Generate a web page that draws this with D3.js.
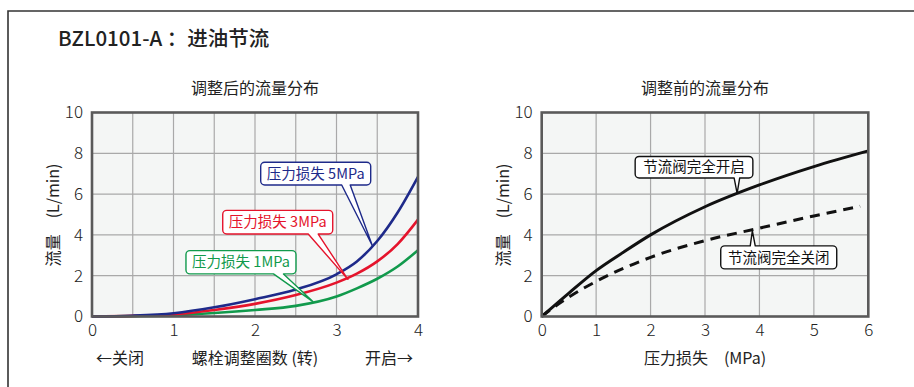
<!DOCTYPE html>
<html>
<head>
<meta charset="utf-8">
<script src="https://d3js.org/d3.v7.min.js"></script>
<style>
  body { margin: 0; background: #fff; }
  text { font-family: "Noto Sans CJK SC", "Noto Sans", sans-serif; fill: #222; }
  .grid line { stroke: #a9a9a9; stroke-width: 1.2px; }
  .frame { fill: none; stroke: #5a5a5a; stroke-width: 2.6px; }
  .bg { fill: #f4f6f5; }
  .tick text { font-size: 17px; font-weight: 300; }
</style>
</head>
<body>
<svg width="914" height="387"></svg>
<script>
// ---- data: left chart (turns vs flow) ----
var turns = [0, 0.5, 1, 1.5, 2, 2.5, 3, 3.25, 3.5, 3.75, 4];
var flow5MPa = [0, 0.04, 0.16, 0.45, 0.85, 1.32, 2.07, 2.7, 3.7, 5.1, 6.85];
var flow3MPa = [0, 0.03, 0.10, 0.32, 0.62, 1.05, 1.66, 2.1, 2.7, 3.55, 4.75];
var flow1MPa = [0, 0.02, 0.06, 0.17, 0.32, 0.52, 0.98, 1.38, 1.85, 2.45, 3.25];
var leftXTicks = [0, 1, 2, 3, 4];
var yTicks = [0, 2, 4, 6, 8, 10];

// ---- data: right chart (pressure vs flow) ----
var pressOpen = [0, 0.5, 1, 1.5, 2, 3, 4, 5, 6];
var flowOpen = [0, 1.15, 2.25, 3.15, 4.0, 5.38, 6.45, 7.35, 8.12];
var pressClosed = [0, 0.25, 0.5, 1, 2, 3, 4, 5, 5.85];
var flowClosed = [0, 0.5, 0.95, 1.72, 2.9, 3.72, 4.33, 4.93, 5.4];
var rightXTicks = [0, 1, 2, 3, 4, 5, 6];

var svg = d3.select('svg');

// outer frame (top and left edges visible)
svg.append('path')
  .attr('d', 'M8,387 V11 H914')
  .attr('fill', 'none')
  .attr('stroke', '#333')
  .attr('stroke-width', 1.6);

svg.append('text')
  .attr('x', 58).attr('y', 46)
  .style('font-size', '20.5px').style('font-weight', 500)
  .text('BZL0101-A ：进油节流');

function zip(xs, ys) {
  return xs.map(function(d, i) { return [d, ys[i]]; });
}

// callout outline: rounded box with a wedge pointing to (tx, ty)
function callout(x0, y0, w, h, r, b1, b2, tx, ty) {
  var x1 = x0 + w, y1 = y0 + h;
  if (ty > y1) {
    return 'M' + (x0 + r) + ',' + y0 + 'H' + (x1 - r) +
      'A' + r + ',' + r + ' 0 0 1 ' + x1 + ',' + (y0 + r) +
      'V' + (y1 - r) + 'A' + r + ',' + r + ' 0 0 1 ' + (x1 - r) + ',' + y1 +
      'H' + b2 + 'L' + tx + ',' + ty + 'L' + b1 + ',' + y1 +
      'H' + (x0 + r) + 'A' + r + ',' + r + ' 0 0 1 ' + x0 + ',' + (y1 - r) +
      'V' + (y0 + r) + 'A' + r + ',' + r + ' 0 0 1 ' + (x0 + r) + ',' + y0 + 'Z';
  }
  return 'M' + (x0 + r) + ',' + y0 + 'H' + b1 + 'L' + tx + ',' + ty + 'L' + b2 + ',' + y0 +
    'H' + (x1 - r) + 'A' + r + ',' + r + ' 0 0 1 ' + x1 + ',' + (y0 + r) +
    'V' + (y1 - r) + 'A' + r + ',' + r + ' 0 0 1 ' + (x1 - r) + ',' + y1 +
    'H' + (x0 + r) + 'A' + r + ',' + r + ' 0 0 1 ' + x0 + ',' + (y1 - r) +
    'V' + (y0 + r) + 'A' + r + ',' + r + ' 0 0 1 ' + (x0 + r) + ',' + y0 + 'Z';
}

function drawPanel(opt) {
  var x = d3.scaleLinear().domain(opt.xDomain).range([opt.left, opt.left + opt.width]);
  var y = d3.scaleLinear().domain([0, 10]).range([316.5, 112.5]);
  var g = svg.append('g');

  g.append('rect').attr('class', 'bg')
    .attr('x', x.range()[0]).attr('y', y.range()[1])
    .attr('width', opt.width).attr('height', y.range()[0] - y.range()[1]);

  var grid = g.append('g').attr('class', 'grid');
  grid.selectAll('line.v').data(opt.xGrid).enter().append('line')
    .attr('x1', function(d) { return x(d); }).attr('x2', function(d) { return x(d); })
    .attr('y1', y(0)).attr('y2', y(10));
  grid.selectAll('line.h').data([2, 4, 6, 8]).enter().append('line')
    .attr('y1', function(d) { return y(d); }).attr('y2', function(d) { return y(d); })
    .attr('x1', x.range()[0]).attr('x2', x.range()[1]);

  var line = d3.line()
    .x(function(d) { return x(d[0]); })
    .y(function(d) { return y(d[1]); })
    .curve(d3.curveMonotoneX);

  opt.series.forEach(function(s) {
    g.append('path')
      .attr('d', line(s.points))
      .attr('fill', 'none')
      .attr('stroke', s.color)
      .attr('stroke-width', s.width)
      .attr('stroke-dasharray', s.dash || null);
  });

  g.append('rect').attr('class', 'frame')
    .attr('x', x.range()[0]).attr('y', y.range()[1])
    .attr('width', opt.width).attr('height', y.range()[0] - y.range()[1]);

  // axes
  var ya = g.append('g').attr('transform', 'translate(' + x.range()[0] + ',0)')
    .call(d3.axisLeft(y).tickValues(yTicks).tickFormat(d3.format('d')).tickSize(0).tickPadding(9));
  ya.select('.domain').remove();
  ya.selectAll('text').attr('fill', '#222').style('font-family', null);

  var xa = g.append('g').attr('transform', 'translate(0,' + y(0) + ')')
    .call(d3.axisBottom(x).tickValues(opt.xTicks).tickFormat(d3.format('d')).tickSize(0).tickPadding(7));
  xa.select('.domain').remove();
  xa.selectAll('text').attr('fill', '#222').style('font-family', null);

  // titles
  g.append('text').attr('x', x.range()[0] + opt.width / 2).attr('y', 94)
    .attr('text-anchor', 'middle').style('font-size', '16px').text(opt.title);

  g.append('text')
    .attr('transform', 'translate(' + (x.range()[0] - 33) + ',215) rotate(-90)')
    .attr('text-anchor', 'middle').style('font-size', '16px')
    .text('流量　(L/min)');

  // callouts
  opt.callouts.forEach(function(c) {
    var tx = x(c.at[0]), ty = y(c.at[1]);
    var bx = x(c.box[0]), by = y(c.box[1]);
    g.append('path')
      .attr('d', callout(bx, by, c.w, c.h, 4, bx + c.base[0], bx + c.base[1], tx, ty))
      .attr('fill', '#fff')
      .attr('stroke', c.color)
      .attr('stroke-width', 1.4)
      .attr('stroke-linejoin', 'round');
    g.append('text')
      .attr('x', bx + c.w / 2).attr('y', by + c.h / 2 + 5.2)
      .attr('text-anchor', 'middle')
      .style('font-size', '14.5px')
      .attr('fill', c.color).style('fill', c.color)
      .text(c.label);
  });

  return { x: x, y: y, g: g };
}

var left = drawPanel({
  xDomain: [0, 4], left: 92, width: 326,
  xGrid: d3.range(0.5, 4, 0.5), xTicks: leftXTicks,
  title: '调整后的流量分布',
  series: [
    { points: zip(turns, flow1MPa), color: '#119a4c', width: 2.6 },
    { points: zip(turns, flow3MPa), color: '#e5142c', width: 2.6 },
    { points: zip(turns, flow5MPa), color: '#1e2a8a', width: 2.6 }
  ],
  callouts: [
    { label: '压力损失 5MPa', color: '#1e2a8a', box: [2.07, 7.56], w: 110, h: 22.7, base: [81, 89.5], at: [3.44, 3.47] },
    { label: '压力损失 3MPa', color: '#e5142c', box: [1.604, 5.2], w: 110, h: 23.6, base: [85.5, 95.5], at: [3.14, 1.82] },
    { label: '压力损失 1MPa', color: '#119a4c', box: [1.153, 3.23], w: 110, h: 23.3, base: [87.5, 97.5], at: [2.71, 0.73] }
  ]
});

left.g.append('text').attr('x', 96).attr('y', 364).style('font-size', '16px').text('←关闭');
left.g.append('text').attr('x', 255).attr('y', 364).attr('text-anchor', 'middle')
  .style('font-size', '16px').text('螺栓调整圈数 (转)');
left.g.append('text').attr('x', 413).attr('y', 364).attr('text-anchor', 'end')
  .style('font-size', '16px').text('开启→');

var right = drawPanel({
  xDomain: [0, 6], left: 541.7, width: 326.6,
  xGrid: d3.range(1, 6, 1), xTicks: rightXTicks,
  title: '调整前的流量分布',
  series: [
    { points: zip(pressClosed, flowClosed), color: '#111', width: 3, dash: '10,7' },
    { points: zip(pressOpen, flowOpen), color: '#111', width: 3 }
  ],
  callouts: [
    { label: '节流阀完全开启', color: '#111', box: [1.717, 7.846], w: 117.7, h: 21.6, base: [99, 104.5], at: [3.59, 6.04] },
    { label: '节流阀完全关闭', color: '#111', box: [3.289, 3.461], w: 116, h: 23, base: [29.5, 34.5], at: [3.87, 4.2] }
  ]
});

right.g.append('text').attr('x', 705).attr('y', 364).attr('text-anchor', 'middle')
  .style('font-size', '16px').text('压力损失　(MPa)');
</script>
</body>
</html>
